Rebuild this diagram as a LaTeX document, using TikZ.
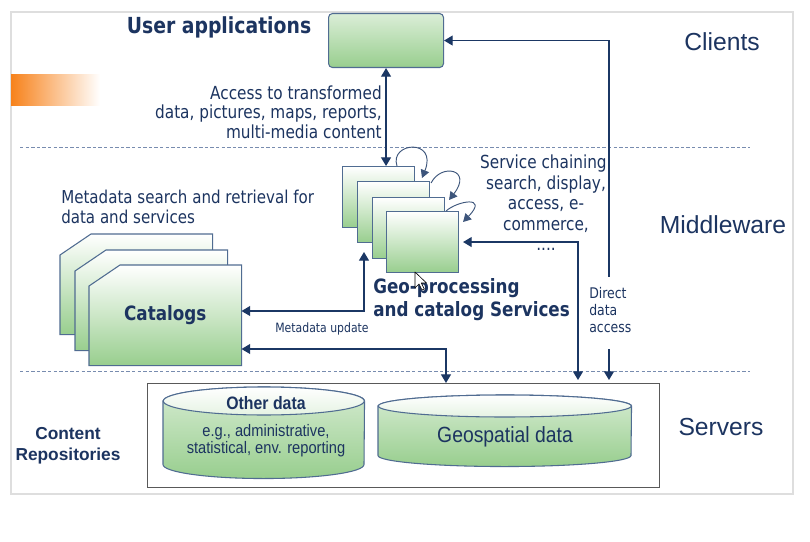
\documentclass[tikz,border=0pt]{standalone}
\usepackage{fontspec}
\setmainfont{DejaVu Sans}
\newfontfamily\tah[FakeStretch=0.85]{DejaVu Sans}
\newfontfamily\ari{Liberation Sans}
\newfontfamily\arn[FakeStretch=0.88]{Liberation Sans}
\usetikzlibrary{arrows.meta,calc}

\definecolor{navy}{RGB}{28,52,96}
\definecolor{linecol}{RGB}{27,55,100}
\definecolor{boxline}{RGB}{80,108,145}
\definecolor{leaf}{RGB}{152,206,142}
\definecolor{dashcol}{RGB}{120,140,175}
\definecolor{panelline}{RGB}{222,222,222}
\definecolor{ora}{RGB}{247,130,27}

\def\px{0.75pt}

\tikzset{
  >={Triangle[length=6.5pt,width=7.5pt]},
  conn/.style={draw=linecol, line width=0.9pt},
  loopconn/.style={draw=linecol!85, line width=0.7pt, -{Triangle[length=6pt,width=6.5pt]}},
  greenbox/.style={draw=boxline, line width=0.8pt, top color=white, bottom color=leaf,
                   inner sep=0pt, anchor=north west},
  catshade/.style={draw=boxline, line width=0.8pt, top color=white, bottom color=leaf},
  cylbody/.style={draw=boxline, line width=0.8pt, top color=leaf!40, bottom color=leaf},
  cyltop/.style={draw=boxline, line width=0.8pt, top color=white, bottom color=leaf!25},
  frame/.style={inner sep=0pt, anchor=north west},
  sepline/.style={draw=dashcol, line width=0.7pt, dash pattern=on 2.6pt off 1.6pt},
  lbl/.style={text=navy, inner sep=0pt},
}

% chamfered catalog card: name, left x, top y (pixel units)
\newcommand\catalogbox[3]{%
  \node[frame, minimum width=152*\px, minimum height=100*\px] (#1) at (#2,#3) {};
  \path[catshade] ($(#1.north west)+(0,21)$) -- ($(#1.north west)+(31,0)$)
     -- (#1.north east) -- (#1.south east) -- (#1.south west) -- cycle;
}

\begin{document}
\begin{tikzpicture}[x=0.75pt, y=-0.75pt]
  \useasboundingbox (0,0) rectangle (810,542);
  \fill[white] (0,0) rectangle (810,542);
  \draw[panelline, fill=white, line width=0.8pt] (11,12) rectangle (793,494);

  % orange accent bar
  \shade[left color=ora, right color=white] (11,75) rectangle (100,105);

  % tier separators
  \draw[sepline] (20,147) -- (750,147);
  \draw[sepline] (20,371) -- (750,371);

  % tier names
  \node[lbl, font=\ari\fontsize{18.5}{22}\selectfont] (clients) at (722,42) {Clients};
  \node[lbl, font=\ari\fontsize{18.5}{22}\selectfont] (middle) at (723,225) {Middleware};
  \node[lbl, font=\ari\fontsize{18.5}{22}\selectfont] (servers) at (721,427) {Servers};

  % client application box
  \node[lbl, font=\tah\bfseries\fontsize{16.6}{20}\selectfont] (uatitle) at (219,27) {User applications};
  \node[greenbox, rounded corners=3pt, top color=leaf!35, middle color=white, bottom color=leaf,
        minimum width=115*\px, minimum height=54*\px] (ua) at (328,13) {};
  \node[lbl, align=right, anchor=east, font=\tah\fontsize{13.5}{14.7}\selectfont] (access) at (382,112)
    {Access to transformed\\data, pictures, maps, reports,\\multi-media content};

  % middleware: catalogs
  \node[lbl, align=left, anchor=west, font=\tah\fontsize{13.3}{15}\selectfont] (metasearch) at (61,207)
    {Metadata search and retrieval for\\data and services};
  \catalogbox{catA}{60}{234}
  \catalogbox{catB}{75}{250}
  \catalogbox{catC}{89}{265}
  \node[lbl, font=\tah\bfseries\fontsize{14.8}{18}\selectfont] (catlabel) at (catC.center) {Catalogs};

  % middleware: chained services
  \node[greenbox, minimum width=72*\px, minimum height=61*\px] (s1) at (342,166) {};
  \node[greenbox, minimum width=72*\px, minimum height=61*\px] (s2) at (357,181) {};
  \node[greenbox, minimum width=72*\px, minimum height=61*\px] (s3) at (372,197) {};
  \node[greenbox, minimum width=72*\px, minimum height=61*\px] (s4) at (386,211) {};
  \node[lbl, align=left, anchor=west, font=\tah\bfseries\fontsize{14.8}{17.2}\selectfont] (geoproc) at (373,300)
    {Geo-processing\\and catalog Services};
  \node[lbl, align=center, font=\tah\fontsize{13.5}{15.4}\selectfont] (chaining) at (546,203)
    {Service chaining:\\search, display,\\access, e-\\commerce,\\....};

  % service chaining loops
  \draw[loopconn] ($(s1.north west)+(55,0)$) .. controls ($(s1.north west)+(47,-24)$) and ($(s1.north west)+(96,-28)$) .. ($(s2.north west)+(65,-3)$);
  \draw[loopconn] ($(s2.north east)+(1,2)$) .. controls ($(s2.north east)+(11,-18)$) and ($(s2.north east)+(43,-12)$) .. ($(s3.north east)+(4,3)$);
  \draw[loopconn] ($(s3.north east)+(1,14)$) .. controls ($(s3.north east)+(12,4)$) and ($(s3.north east)+(44,-2)$) .. ($(s4.north east)+(4,11)$);

  % content repositories
  \node[lbl, align=center, font=\ari\bfseries\fontsize{13}{15.8}\selectfont] (repo) at (68,446)
    {Content\\Repositories};
  \node[frame, draw=black!65, line width=0.8pt, minimum width=512*\px, minimum height=104*\px] (srv) at (147,383) {};

  \node[frame, minimum width=201*\px, minimum height=91*\px] (od) at (163,387) {};
  \path[cylbody] ($(od.north west)+(0,14)$) -- ($(od.south west)+(0,-14)$)
     arc[start angle=180, end angle=360, x radius=100.5*\px, y radius=14*\px]
     -- ($(od.north east)+(0,14)$)
     arc[start angle=0, end angle=180, x radius=100.5*\px, y radius=14*\px] -- cycle;
  \path[cyltop] ($(od.north)+(0,14)$) ellipse [x radius=100.5*\px, y radius=14*\px];
  \node[lbl, font=\arn\bfseries\fontsize{13.5}{16}\selectfont] (odtitle) at (266,403) {Other data};
  \node[lbl, align=center, font=\arn\fontsize{12.5}{12.8}\selectfont] (odtext) at (266,441)
    {e.g., administrative,\\statistical, env. reporting};

  \node[frame, minimum width=253*\px, minimum height=71*\px] (gd) at (378,395) {};
  \path[cylbody] ($(gd.north west)+(0,11)$) -- ($(gd.south west)+(0,-11)$)
     arc[start angle=180, end angle=360, x radius=126.5*\px, y radius=11*\px]
     -- ($(gd.north east)+(0,11)$)
     arc[start angle=0, end angle=180, x radius=126.5*\px, y radius=11*\px] -- cycle;
  \path[cyltop] ($(gd.north)+(0,11)$) ellipse [x radius=126.5*\px, y radius=11*\px];
  \node[lbl, font=\arn\fontsize{16.5}{20}\selectfont] (gdtext) at (505,437) {Geospatial data};

  % connectors
  \draw[conn, <->] (ua.south) -- (ua.south |- s1.north);

  \coordinate (dd1) at (609,277);
  \coordinate (dd2) at (609,349);
  \coordinate (dd3) at (609,380);
  \draw[conn, <-] (ua.east) -| (dd1);
  \draw[conn, ->] (dd2) -- (dd3);
  \node[lbl, align=left, anchor=west, font=\tah\fontsize{11}{13.1}\selectfont] (direct) at (589,310)
    {Direct\\data\\access};

  \coordinate (scb) at (578,380);
  \draw[conn, <->] ($(s4.east)+(4,0)$) -| (scb);

  \coordinate (mu) at (364,252);
  \draw[conn, <->] (mu) |- ($(catC.north east)+(0,46)$);
  \node[lbl, font=\tah\fontsize{9.6}{11}\selectfont] (mutext) at (322,329) {Metadata update};

  \coordinate (cb) at (446,383);
  \draw[conn, <->] ($(catC.north east)+(0,84)$) -| (cb);

  % pointer
  \draw[fill=white, draw=black, line width=0.45pt, line join=round]
    (415,272) -- ++(0,16) -- ++(4,-4) -- ++(3,6) -- ++(2.3,-1) -- ++(-3,-6) -- ++(5.2,0) -- cycle;
\end{tikzpicture}
\end{document}
